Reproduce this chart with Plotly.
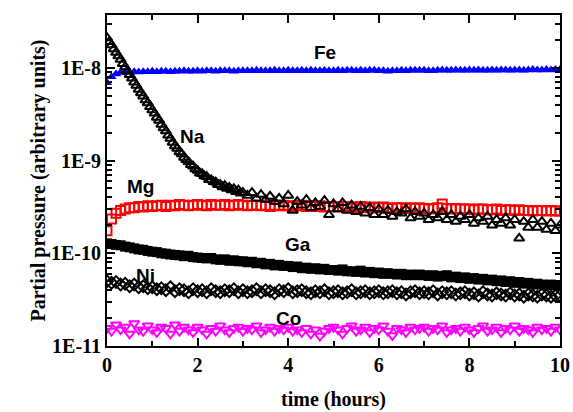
import math
import plotly.graph_objects as go

# time axis (hours)
t_grid = [i / 10 for i in range(101)]
na_t = [i / 20 for i in range(61)] + [round(3.1 + i / 10, 1) for i in range(70)]

# Fe (units of 1e-9)
fe_vals = [6.9, 8.0, 8.6, 8.9, 9.0, 9.0, 9.1, 9.0, 9.1, 9.1,
           9.2, 9.1, 9.2, 9.2, 9.1, 9.2, 9.2, 9.3, 9.2, 9.2,
           9.3, 9.2, 9.3, 9.3, 9.2, 9.3, 9.3, 9.3, 9.2, 9.3,
           9.3, 9.3, 9.3, 9.4, 9.3, 9.3, 9.3, 9.4, 9.3, 9.3,
           9.4, 9.3, 9.3, 9.4, 9.3, 9.4, 9.3, 9.3, 9.4, 9.3,
           9.3, 9.4, 9.3, 9.4, 9.4, 9.3, 9.4, 9.3, 9.4, 9.4,
           9.3, 9.3, 9.2, 9.3, 9.3, 9.4, 9.3, 9.4, 9.4, 9.4,
           9.4, 9.3, 9.3, 9.4, 9.5, 9.4, 9.4, 9.5, 9.4, 9.4,
           9.5, 9.4, 9.5, 9.4, 9.4, 9.5, 9.4, 9.5, 9.5, 9.4,
           9.5, 9.5, 9.4, 9.5, 9.6, 9.5, 9.5, 9.6, 9.5, 9.6,
           9.6]

# Na (units of 1e-10)
na_vals = [210, 191, 176, 160, 146, 134, 123, 111, 102, 92,
           84, 77, 70, 64.5, 58.5, 53.6, 49.5, 45, 41.8, 38,
           35.1, 32.3, 29.2, 27.1, 24.5, 22.5, 20.8, 18.7, 17.3, 15.7,
           14.4, 13.5, 12.4, 11.8, 10.8, 10.2, 9.7, 9.0, 8.7, 8.1,
           7.8, 7.3, 7.2, 6.8, 6.7, 6.2, 6.2, 5.9, 5.85, 5.5,
           5.5, 5.2, 5.35, 5.0, 5.1, 4.8, 4.95, 4.6, 4.8, 4.45,
           4.5,
           4.2, 4.5, 3.9, 4.3, 3.8, 4.1, 3.6, 3.9, 3.4, 4.2,
           2.9, 3.6, 3.3, 3.8, 3.1, 3.5, 3.2, 3.7, 2.6, 3.4,
           3.0, 3.5, 2.9, 3.3, 2.8, 3.2, 2.7, 3.1, 2.6, 3.0,
           2.6, 2.9, 2.5, 2.8, 2.7, 3.0, 2.4, 2.8, 2.5, 2.7,
           2.3, 2.6, 2.4, 2.8, 2.3, 2.6, 2.2, 2.5, 2.3, 2.6,
           2.1, 2.4, 2.2, 2.5, 2.0, 2.3, 2.1, 2.4, 2.0, 2.3,
           1.45, 2.2, 1.9, 2.3, 1.9, 2.2, 1.8, 2.1, 1.75, 2.0]

# Mg (units of 1e-10)
mg_vals = [1.75, 2.35, 2.7, 2.9, 3.0, 3.1, 3.1, 3.2, 3.15, 3.25,
           3.2, 3.25, 3.3, 3.2, 3.3, 3.25, 3.35, 3.3, 3.25, 3.3,
           3.35, 3.3, 3.25, 3.35, 3.3, 3.3, 3.35, 3.25, 3.3, 3.35,
           3.3, 3.25, 3.3, 3.3, 3.25, 3.3, 3.2, 3.3, 3.25, 3.3,
           3.25, 3.2, 3.25, 3.3, 3.2, 3.25, 3.2, 3.25, 3.15, 3.2,
           3.2, 3.15, 3.2, 3.2, 3.15, 3.1, 3.2, 3.15, 3.1, 3.15,
           3.1, 3.15, 3.1, 3.05, 3.1, 3.1, 3.05, 3.1, 3.05, 3.1,
           3.05, 3.0, 3.05, 3.1, 3.4, 3.05, 3.0, 3.05, 3.0, 3.0,
           3.0, 2.95, 3.0, 3.0, 2.95, 2.95, 3.0, 2.9, 2.95, 2.95,
           2.9, 2.95, 2.9, 2.9, 2.85, 2.9, 2.9, 2.85, 2.9, 2.85,
           2.85]

# Ga (units of 1e-11)
ga_vals = [12.8, 12.6, 12.3, 12.2, 11.8, 11.6, 11.3, 11.0, 10.9, 10.6,
           10.4, 10.3, 10.0, 9.9, 9.7, 9.6, 9.5, 9.3, 9.4, 9.1,
           9.0, 8.9, 8.8, 8.9, 8.6, 8.5, 8.6, 8.3, 8.4, 8.2,
           8.2, 8.0, 8.1, 7.8, 7.9, 7.6, 7.7, 7.4, 7.5, 7.3,
           7.3, 7.1, 7.2, 6.9, 7.0, 6.8, 6.9, 6.7, 6.8, 6.6,
           6.6, 6.5, 6.7, 6.4, 6.4, 6.3, 6.5, 6.2, 6.3, 6.1,
           6.2, 6.0, 6.1, 6.0, 5.9, 6.0, 5.8, 5.9, 5.8, 5.9,
           5.8, 5.7, 5.8, 5.6, 5.7, 5.8, 5.5, 5.6, 5.4, 5.5,
           5.3, 5.4, 5.2, 5.3, 5.1, 5.2, 5.0, 5.1, 4.9, 5.0,
           4.8, 4.9, 4.7, 4.8, 4.6, 4.7, 4.6, 4.5, 4.6, 4.5,
           4.5]

# Ni (units of 1e-11)
ni_vals = [5.0, 4.8, 4.9, 4.6, 4.7, 4.4, 4.6, 4.3, 4.4, 4.2,
           4.3, 4.1, 4.2, 4.0, 4.3, 3.9, 4.1, 4.0, 3.8, 4.1,
           3.9, 4.0, 3.8, 4.1, 3.9, 3.8, 4.0, 3.9, 4.1, 3.8,
           4.0, 3.8, 3.9, 4.1, 3.8, 4.0, 3.9, 3.7, 4.0, 3.9,
           4.1, 3.8, 3.9, 4.0, 3.8, 3.7, 3.9, 3.8, 4.0, 3.7,
           3.8, 3.9, 3.7, 3.8, 4.0, 3.7, 3.8, 3.9, 3.7, 3.8,
           3.9, 3.7, 3.8, 3.9, 3.7, 3.8, 3.6, 3.8, 3.9, 3.7,
           3.8, 3.7, 3.9, 3.6, 3.8, 3.7, 3.8, 3.6, 3.7, 3.8,
           3.6, 3.7, 3.5, 3.8, 3.6, 3.5, 3.7, 3.6, 3.5, 3.7,
           3.5, 3.6, 3.4, 3.6, 3.5, 3.4, 3.6, 3.5, 3.4, 3.5,
           3.5]

# Co (units of 1e-11)
co_vals = [1.55, 1.45, 1.7, 1.5, 1.6, 1.35, 1.75, 1.5, 1.45, 1.65,
           1.5, 1.4, 1.6, 1.55, 1.35, 1.7, 1.45, 1.6, 1.5, 1.4,
           1.6, 1.5, 1.35, 1.55, 1.45, 1.65, 1.5, 1.4, 1.55, 1.6,
           1.45, 1.55, 1.5, 1.65, 1.4, 1.5, 1.6, 1.45, 1.55, 1.5,
           1.6, 1.45, 1.5, 1.4, 1.55, 1.35, 1.5, 1.28, 1.45, 1.55,
           1.6, 1.5, 1.35, 1.55, 1.65, 1.45, 1.5, 1.6, 1.4, 1.55,
           1.5, 1.65, 1.45, 1.3, 1.55, 1.5, 1.4, 1.6, 1.5, 1.55,
           1.6, 1.45, 1.55, 1.5, 1.65, 1.4, 1.5, 1.55, 1.45, 1.6,
           1.5, 1.4, 1.55, 1.65, 1.45, 1.5, 1.6, 1.4, 1.55, 1.5,
           1.65, 1.45, 1.55, 1.5, 1.4, 1.6, 1.5, 1.55, 1.45, 1.6,
           1.5]

y_tick_vals = [1e-11, 1e-10, 1e-9, 1e-8]
y_tick_text = ["1E-11", "1E-10", "1E-9", "1E-8"]
x_tick_vals = [0, 2, 4, 6, 8, 10]

labels = ["Fe", "Na", "Mg", "Ga", "Ni", "Co"]
label_x = [4.81, 1.88, 0.75, 4.22, 0.84, 4.0]
label_y = [1.45e-8, 1.8e-9, 5.2e-10, 1.23e-10, 5.83e-11, 2.0e-11]

fig = go.Figure()

def add(x, y, scale, symbol, color, size, lw):
    fig.add_trace(go.Scatter(
        x=x, y=[v * scale for v in y], mode="markers",
        marker=dict(symbol=symbol, color=color, size=size,
                    line=dict(color=color, width=lw)),
        showlegend=False, hoverinfo="skip"))

add(t_grid, co_vals, 1e-11, "triangle-down-open", "#FF00FF", 9, 2)
add(t_grid, ni_vals, 1e-11, "diamond-open", "black", 9, 2)
add(t_grid, ga_vals, 1e-11, "square", "black", 10, 0)
add(t_grid, mg_vals, 1e-10, "square-open", "#FF0000", 9, 2)
add(t_grid, fe_vals, 1e-9, "triangle-up", "#0000FF", 9, 0)
add(na_t, na_vals, 1e-10, "triangle-up-open", "black", 9, 2)

for txt, lx, ly in zip(labels, label_x, label_y):
    fig.add_annotation(x=lx, y=math.log10(ly), yref="y", xref="x", text=txt,
                       showarrow=False,
                       font=dict(family="Liberation Sans", size=19,
                                 color="black", weight="bold"))

minor_y = [m * 10.0 ** e for e in (-11, -10, -9, -8) for m in range(2, 10)]

tick_font = dict(family="Liberation Serif", size=20, color="black", weight="bold")
title_font = dict(family="Liberation Serif", size=20, color="black", weight="bold")

fig.update_xaxes(range=[0, 10], tickvals=x_tick_vals,
                 ticks="inside", ticklen=8, tickwidth=2, tickcolor="black",
                 showline=True, linewidth=2, linecolor="black", mirror="allticks",
                 showgrid=False, zeroline=False, tickfont=tick_font,
                 automargin=False,
                 minor=dict(dtick=1, ticks="inside", ticklen=5, tickwidth=1.5,
                            tickcolor="black", showgrid=False),
                 title=dict(text="time (hours)", font=title_font, standoff=17))
fig.update_yaxes(type="log", range=[-11, -7.43], tickvals=y_tick_vals,
                 ticktext=y_tick_text,
                 ticks="inside", ticklen=8, tickwidth=2, tickcolor="black",
                 showline=True, linewidth=2, linecolor="black", mirror="allticks",
                 showgrid=False, zeroline=False, tickfont=tick_font,
                 automargin=False,
                 minor=dict(tickvals=minor_y, ticks="inside", ticklen=5,
                            tickwidth=1.5, tickcolor="black", showgrid=False),
                 title=dict(text="Partial pressure (arbitrary units)",
                            font=title_font, standoff=0))

fig.update_layout(width=573, height=412,
                  margin=dict(l=107, r=13, t=15, b=66),
                  paper_bgcolor="white", plot_bgcolor="white")

fig.write_html("out.html", config={"displayModeBar": False},
               post_script="document.body.style.margin='0';"
                           "document.body.style.overflow='hidden';")
